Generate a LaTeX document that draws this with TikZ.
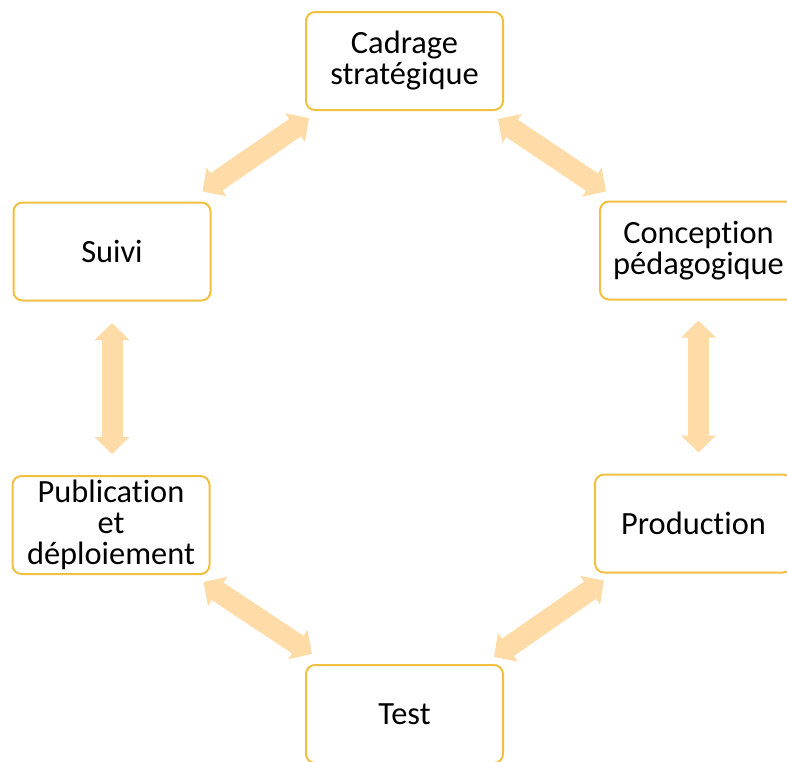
\documentclass[tikz,border=0pt]{standalone}
\usepackage{fontspec}
\setmainfont{Carlito}[Ligatures=NoCommon]
\usetikzlibrary{arrows.meta}
\definecolor{boxline}{RGB}{242,192,64}
\definecolor{arrowfill}{RGB}{255,219,168}
\tikzset{
  stage/.style={draw=boxline, line width=1pt, rounded corners=4.5pt, fill=white,
    minimum width=98.5pt, minimum height=49pt, align=center, inner sep=1pt,
    font=\fontsize{16.2}{15.5}\selectfont},
  link/.style={draw=arrowfill, line width=10.5pt,
    {Triangle[width=17pt,length=8.5pt]}-{Triangle[width=17pt,length=8.5pt]}}
}
\begin{document}
\begin{tikzpicture}[x=0.5pt,y=-0.5pt]
\useasboundingbox (0,0) rectangle (787,761);
\node[stage] (cad) at (404.5,61) {Cadrage\\strat\'egique};
\node[stage] (conc) at (698.5,250.5) {Conception\\p\'edagogique};
\node[stage] (prod) at (693.5,523.5) {Production};
\node[stage] (test) at (404.5,714) {Test};
\node[stage] (pub) at (111,525) {Publication\\et\\d\'eploiement};
\node[stage] (suivi) at (112,251.5) {Suivi};
% cycle arrows
\draw[link] ([shift={(4,7)}]cad.south west) -- ([shift={(-9,-10)}]suivi.north east);
\draw[link] ([shift={(-6,8)}]cad.south east) -- ([shift={(7,-9)}]conc.north west);
\draw[link] ([yshift=-10pt]conc.south) -- ([yshift=10.5pt]conc.south |- prod.north);
\draw[link] ([shift={(10,7)}]prod.south west) -- ([shift={(-10,-7)}]test.north east);
\draw[link] ([shift={(-7,7)}]pub.south east) -- ([shift={(7,-10)}]test.north west);
\draw[link] ([yshift=-10.75pt]suivi.south) -- ([yshift=10.5pt]suivi.south |- pub.north);
\end{tikzpicture}
\end{document}
